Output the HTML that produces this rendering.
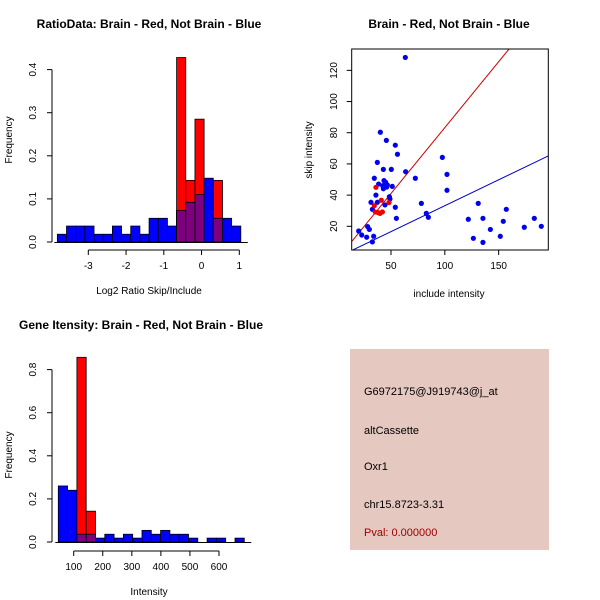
<!DOCTYPE html>
<html><head><meta charset="utf-8"><style>
body{margin:0;background:#fff;}
svg{display:block;font-family:"Liberation Sans",sans-serif;}
</style></head><body>
<svg id="c" width="600" height="600" xmlns="http://www.w3.org/2000/svg">
<rect x="350" y="349" width="199" height="201" fill="#e5c8c0"/>
<g font-size="11">
<text x="364" y="395">G6972175@J919743@j_at</text>
<text x="364" y="434">altCassette</text>
<text x="364" y="470">Oxr1</text>
<text x="364" y="508">chr15.8723-3.31</text>
<text x="364" y="536" fill="#a00000">Pval: 0.000000</text>
</g>
</svg>
<script>
// ---- Histogram 1 data (log2 ratio) ----
const h1Start = -3.82, h1Width = 0.243;
const h1Blue = [0.018,0.037,0.037,0.037,0.018,0.018,0.037,0.018,0.037,0.018,0.055,0.055,0.037,0.073,0.092,0.11,0.148,0.055,0.055,0.037];
const h1Red  = [0,0,0,0,0,0,0,0,0,0,0,0,0,0.428,0.143,0.285,0,0.143,0,0];
const h1XTicks = [-3,-2,-1,0,1];
const h1YTicks = [0,0.1,0.2,0.3,0.4];
// ---- Histogram 2 data (intensity) ----
const h2Start = 47, h2Width = 32;
const h2Blue = [0.26,0.24,0.036,0.036,0.018,0.036,0.018,0.036,0.018,0.054,0.036,0.054,0.036,0.036,0.018,0,0.018,0.018,0,0.018];
const h2Red  = [0,0,0.857,0.143,0,0,0,0,0,0,0,0,0,0,0,0,0,0,0,0];
const h2XTicks = [100,200,300,400,500,600];
const h2YTicks = [0,0.2,0.4,0.6,0.8];
// ---- Scatter data ----
const blueX = [20,22.8,27.4,28.3,29.9,31.4,32.7,32.7,33.9,34.5,36,37.3,37.3,38.5,40.1,42.3,42.9,42.9,43.5,44.4,45,45.7,46,46.6,48.5,49,50.3,51.2,54,54,55,56,63.3,63.6,72.6,78.2,82.8,84.7,97.7,102,102,121.8,126.5,131,135.4,135.4,142.3,151.5,154.3,157.1,173.8,183.1,189.6];
const blueY = [17,14.4,13,19.8,18,35.4,30.9,10,13.6,50.8,40,35.4,61,47.1,80.3,46,56.5,44.1,49.3,33.7,48.2,75.1,45.2,46.5,39,37.5,56.5,45.6,72,32.2,25.1,66.2,128.3,55,50.8,34.7,28.3,25.8,64.2,53.3,43.1,24.5,12.3,34.7,25.1,9.7,18,13.6,23.2,30.9,19.4,25.1,20];
const redX = [36,34.5,35.4,39.8,41,42,48.1,37.9];
const redY = [45,33.2,29.2,28.3,36.7,29.2,35.2,28.8];
const sXTicks = [50,100,150];
const sYTicks = [20,40,60,80,100,120];
const redSlope = 0.845, redInt = -1.2;
const blueSlope = 0.332, blueInt = 0;

const svg = document.getElementById('c');
const NS = 'http://www.w3.org/2000/svg';
function mk(tag, attrs, parent){
  const e = document.createElementNS(NS, tag);
  for (const k in attrs) e.setAttribute(k, attrs[k]);
  (parent||svg).appendChild(e);
  return e;
}
function txt(x,y,s,size,extra){
  const t = mk('text', Object.assign({x:x,y:y,'font-size':size,'text-anchor':'middle'}, extra||{}));
  t.textContent = s;
  return t;
}

function hist(cfg){
  const g = mk('g', {});
  
  
  const xs = v => cfg.x0 + (v - cfg.xv0) * cfg.xk;
  const ys = v => cfg.y0 - v * cfg.yk;
  const n = cfg.blue.length;
  for (let i=0;i<n;i++){
    const a = xs(cfg.start + i*cfg.width), b = xs(cfg.start + (i+1)*cfg.width);
    const bv = cfg.blue[i], rv = cfg.red[i];
    if (bv>0){
      const r = mk('rect',{x:a,y:ys(bv),width:b-a,height:ys(0)-ys(bv),fill:'#0000ff',stroke:'#000','stroke-width':0.8},g);
      
      
    }
    if (rv>0){
      const r = mk('rect',{x:a,y:ys(rv),width:b-a,height:ys(0)-ys(rv),fill:'#ff0000',stroke:'#000','stroke-width':0.8},g);
      
      
      if (bv>0){
        const m = Math.min(bv,rv);
        const p = mk('rect',{x:a,y:ys(m),width:b-a,height:ys(0)-ys(m),fill:'#7f007f',stroke:'#000','stroke-width':0.8},g);
        
        
      }
    }
  }
  mk('line',{x1:xs(cfg.start)-3,x2:xs(cfg.start+n*cfg.width)+7,y1:ys(0)+0.5,y2:ys(0)+0.5,stroke:'#000'},g);
  const ax = mk('g',{},g);
  
  
  const xa = cfg.xt[0], xb = cfg.xt[cfg.xt.length-1];
  mk('line',{x1:xs(xa),x2:xs(xb),y1:cfg.axY,y2:cfg.axY,stroke:'#000'},ax);
  cfg.xt.forEach(v=>{
    mk('line',{x1:xs(v),x2:xs(v),y1:cfg.axY,y2:cfg.axY+5,stroke:'#000'},ax);
    const t = txt(xs(v), cfg.axY+19, String(v), 10);
    ax.appendChild(t);
  });
  const ay = mk('g',{},g);
  
  
  mk('line',{x1:52,x2:52,y1:ys(cfg.yt[0]),y2:ys(cfg.yt[cfg.yt.length-1]),stroke:'#000'},ay);
  cfg.yt.forEach(v=>{
    mk('line',{x1:47,x2:52,y1:ys(v),y2:ys(v),stroke:'#000'},ay);
    const t = txt(36, ys(v), v.toFixed(1), 10, {transform:'rotate(-90 36 '+ys(v)+')'});
    ay.appendChild(t);
  });
  const yl = txt(12, cfg.yLabY, 'Frequency', 10, {transform:'rotate(-90 12 '+cfg.yLabY+')'});
  
  
  const xl = txt(149, cfg.axY+44, cfg.xlab, 10);
  
  
  const tt = txt(cfg.titleX, cfg.titleY, cfg.title, 12, {'font-weight':'bold'});
  
  
}

hist({name:'ratio-histogram',blue:h1Blue,red:h1Red,start:h1Start,width:h1Width,
  x0:88.3,xv0:-3,xk:37.75,y0:242,yk:431,xt:h1XTicks,yt:h1YTicks,axY:250,yLabY:140,
  xlab:'Log2 Ratio Skip/Include',title:'RatioData: Brain - Red, Not Brain - Blue',titleX:149,titleY:28});
hist({name:'intensity-histogram',blue:h2Blue,red:h2Red,start:h2Start,width:h2Width,
  x0:73.7,xv0:100,xk:0.2906,y0:542,yk:215.5,xt:h2XTicks,yt:h2YTicks,axY:551,yLabY:455,
  xlab:'Intensity',title:'Gene Itensity: Brain - Red, Not Brain - Blue',titleX:141,titleY:329});

(function(){
  const g = mk('g',{});
  
  
  const L=351.7,R=548.3,T=49,B=250;
  const xmin=13.5,xmax=196.1,ymin=4.8,ymax=133.7;
  const xs = v => L + (v-xmin)/(xmax-xmin)*(R-L);
  const ys = v => B - (v-ymin)/(ymax-ymin)*(B-T);
  const cp = mk('clipPath',{id:'sc'},g);
  mk('rect',{x:L,y:T,width:R-L,height:B-T},cp);
  const lines = mk('g',{'clip-path':'url(#sc)'},g);
  const rl = mk('line',{x1:xs(xmin),y1:ys(redInt+redSlope*xmin),x2:xs(xmax),y2:ys(redInt+redSlope*xmax),stroke:'#cc0000','stroke-width':1},lines);
  
  
  const bl = mk('line',{x1:xs(xmin),y1:ys(blueInt+blueSlope*xmin),x2:xs(xmax),y2:ys(blueInt+blueSlope*xmax),stroke:'#0000cc','stroke-width':1},lines);
  
  
  blueX.forEach((x,i)=>{
    const c = mk('circle',{cx:xs(x),cy:ys(blueY[i]),r:2.6,fill:'#0000ee'},g);
    
    
  });
  redX.forEach((x,i)=>{
    const c = mk('circle',{cx:xs(x),cy:ys(redY[i]),r:2.6,fill:'#ee0000'},g);
    
    
  });
  mk('rect',{x:L,y:T,width:R-L,height:B-T,fill:'none',stroke:'#000'},g);
  const ax = mk('g',{},g);
  
  
  sXTicks.forEach(v=>{
    mk('line',{x1:xs(v),x2:xs(v),y1:B,y2:B+5,stroke:'#000'},ax);
    ax.appendChild(txt(xs(v),B+19,String(v),10));
  });
  const ay = mk('g',{},g);
  
  
  sYTicks.forEach(v=>{
    mk('line',{x1:L-5,x2:L,y1:ys(v),y2:ys(v),stroke:'#000'},ay);
    ay.appendChild(txt(337,ys(v),String(v),10,{transform:'rotate(-90 337 '+ys(v)+')'}));
  });
  const xl = txt(449,297,'include intensity',10);
  
  
  const yl = txt(312,150,'skip intensity',10,{transform:'rotate(-90 312 150)'});
  
  
  const tt = txt(449,28,'Brain - Red, Not Brain - Blue',12,{'font-weight':'bold'});
  
  
})();
</script>
</body></html>
